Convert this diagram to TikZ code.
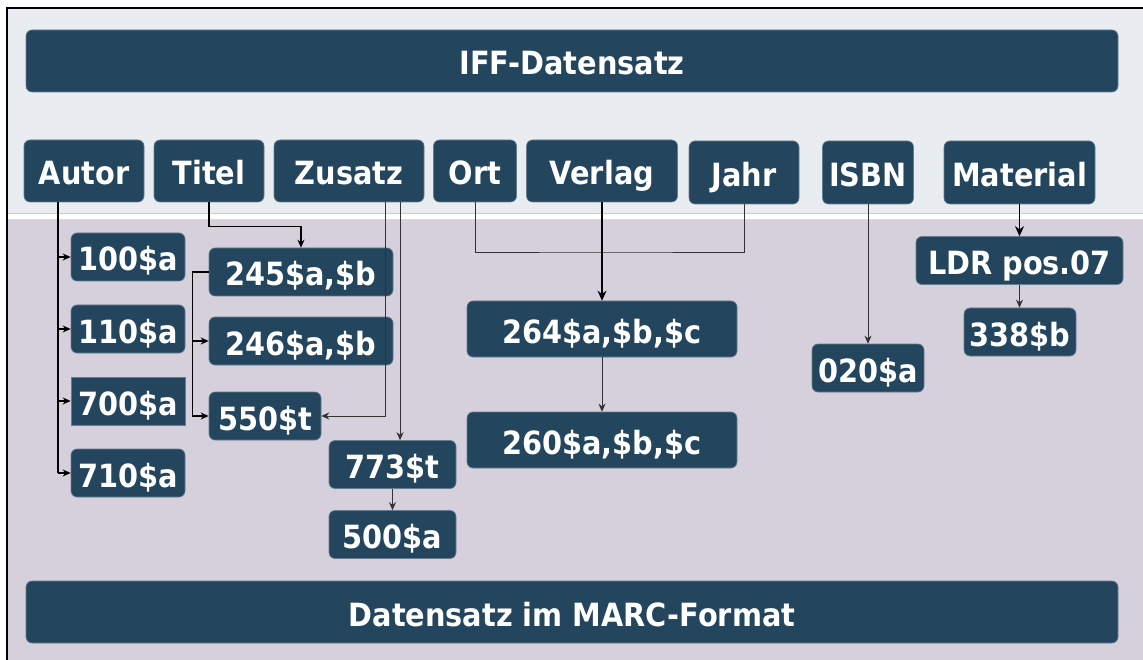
\documentclass[tikz,border=0pt]{standalone}
\usepackage{fontspec}
\setmainfont{DejaVu Sans Condensed}
\usepackage{xcolor}
\usepackage{tikz}
\usetikzlibrary{arrows.meta}

\definecolor{boxblue}{HTML}{23455D}
\definecolor{topgray}{HTML}{E9EDF1}
\definecolor{lowviolet}{HTML}{D6CFDC}

\begin{document}
\begin{tikzpicture}[x=1pt,y=-1pt,
    box/.style={fill=boxblue, draw=boxblue!70!white, line width=0.6pt,
      rounded corners=6pt, text=white, inner sep=0pt,
      font=\bfseries\fontsize{32}{32}\selectfont,
      text height=28pt, text depth=0pt},
    bar/.style={box, minimum width=1092pt, minimum height=62pt},
    head/.style={box, minimum height=62pt},
    fld/.style={box, minimum height=48pt},
    link/.style={line width=0.9pt, draw=black!80,
      -{Stealth[length=8pt,width=7pt]}},
    darklink/.style={link, line width=1.2pt, draw=black},
    boldlink/.style={link, line width=1.6pt, draw=black,
      -{Stealth[length=10pt,width=9pt]}}]
    \useasboundingbox (0,0) rectangle (1143,660);

    % Hintergrund
    \fill[white] (0,0) rectangle (1143,660);
    \fill[topgray] (8,9) rectangle (1143,213);
    \fill[lowviolet] (8,220) rectangle (1143,660);
    \draw[black!20, line width=0.8pt] (8,213.5) -- (1143,213.5);
    \draw[black!15, line width=0.8pt] (8,219.5) -- (1143,219.5);
    \draw[line width=2pt] (7,660) -- (7,8) -- (1143,8);

    % Balken
    \node[bar] (iff) at (572,61) {IFF-Datensatz};
    \node[bar] (marc) at (572,612) {Datensatz im MARC-Format};

    % IFF-Felder
    \node[head, minimum width=120pt] (autor) at (84,171) {Autor};
    \node[head, minimum width=110pt] (titel) at (209,171) {Titel};
    \node[head, minimum width=150pt] (zusatz) at (349,171) {Zusatz};
    \node[head, minimum width=83pt] (ort) at (475,171) {Ort};
    \node[head, minimum width=151pt] (verlag) at (602,171) {Verlag};
    \node[head, minimum width=110pt, minimum height=63pt] (jahr) at (744,172.5) {Jahr};
    \node[head, minimum width=91pt, minimum height=63pt] (isbn) at (868,172.5) {ISBN};
    \node[head, minimum width=151pt, minimum height=63pt] (material) at (1019.5,172.5) {Material};

    % MARC-Felder
    \node[fld, minimum width=114pt] (f100) at (128,257) {100\$a};
    \node[fld, minimum width=114pt] (f110) at (128,329) {110\$a};
    \node[fld, minimum width=114pt, rounded corners=0pt] (f700) at (128,401) {700\$a};
    \node[fld, minimum width=114pt] (f710) at (128,473) {710\$a};
    \node[fld, minimum width=184pt] (f245) at (301,272) {245\$a,\$b};
    \node[fld, minimum width=184pt] (f246) at (301,341) {246\$a,\$b};
    \node[fld, minimum width=112pt] (f550) at (265,416) {550\$t};
    \node[fld, minimum width=127pt] (f773) at (392.5,464.5) {773\$t};
    \node[fld, minimum width=127pt] (f500) at (392.5,534.5) {500\$a};
    \node[fld, minimum width=270pt, minimum height=56pt] (f264) at (602,329) {264\$a,\$b,\$c};
    \node[fld, minimum width=270pt, minimum height=56pt] (f260) at (602,440) {260\$a,\$b,\$c};
    \node[fld, minimum width=112pt] (f020) at (868,368) {020\$a};
    \node[fld, minimum width=207pt] (ldr) at (1019.5,260.5) {LDR pos.07};
    \node[fld, minimum width=112pt] (f338) at (1020,332) {338\$b};

    % Autor
    \coordinate (aspine) at (58,202);
    \draw[line width=1.6pt] (aspine) -- (aspine |- f710);
    \foreach \f in {f100,f110,f700,f710}
        \draw[darklink] (aspine |- \f) -- (\f.west);

    % Titel
    \draw[darklink] (titel.south) -- ++(0,24) -| (f245.north);
    \draw[darklink] (f245.west) -- ++(-16,0) |- (f246.west);
    \draw[darklink] (f245.west) -- ++(-16,0) |- (f550.west);

    % Zusatz
    \draw[link] ([xshift=36pt]zusatz.south) |- (f550.east);
    \draw[link] ([xshift=51pt]zusatz.south) -- ([xshift=51pt]zusatz.south |- f773.north);
    \draw[link] (f773.south) -- (f500.north);

    % Ort, Verlag, Jahr
    \coordinate (pubjoin) at (602,252);
    \draw[line width=0.9pt, black!80] (ort.south) |- (pubjoin) -| (jahr.south);
    \draw[boldlink] (verlag.south) -- (f264.north);
    \draw[link] (f264.south) -- (f260.north);

    % ISBN, Material
    \draw[link] (isbn.south) -- (f020.north);
    \draw[boldlink] (material.south) -- (ldr.north);
    \draw[link] (ldr.south) -- (ldr.south |- f338.north);
\end{tikzpicture}
\end{document}
